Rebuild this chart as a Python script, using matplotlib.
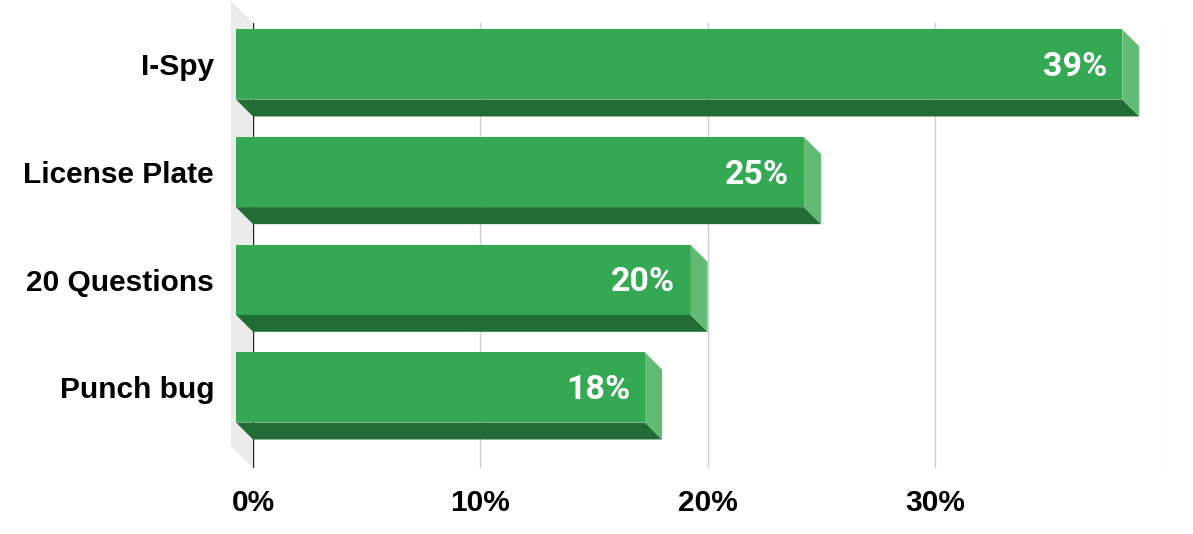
import matplotlib
matplotlib.use("Agg")
import matplotlib.pyplot as plt
from matplotlib.patches import Polygon

# data
games = ["I-Spy", "License Plate", "20 Questions", "Punch bug"]
shares = [39, 25, 20, 18]
x_ticks = [0, 10, 20, 30]
x_tick_labels = ["0%", "10%", "20%", "30%"]
grid_at = [10, 20, 30, 40]

# colours
c_front = "#34a853"
c_bottom = "#226d36"
c_side = "#61bb75"
c_wall = "#ebebeb"
c_grid = "#cccccc"

W, H = 1193, 534
fig = plt.figure(figsize=(W / 100, H / 100), dpi=100)
# axes = back plane of the 3d box
ax = fig.add_axes([253 / W, (H - 468) / H, 909 / W, 445 / H])
ax.set_xlim(0, 40)
ax.set_ylim(3.590, -0.543)

px_x = 909 / 40.0       # pixels per percent
px_y = 107.67           # pixels per category slot
bar_h = 70 / px_y
dx = 17 / px_x          # bar depth
dy = 17 / px_y
wdx = 22 / px_x         # wall depth
wdy = 22 / px_y

y0, y1 = ax.get_ylim()[1], ax.get_ylim()[0]

# side wall
ax.add_patch(Polygon([(0, y0), (0, y1), (-wdx, y1 - wdy), (-wdx, y0 - wdy)],
                     closed=True, fc=c_wall, ec="none", clip_on=False, zorder=0))

for g in grid_at:
    ax.axvline(g, color=c_grid, lw=1, zorder=1)
ax.axvline(0, color="#222222", lw=1, zorder=1)

front_y = []
for i, v in enumerate(shares):
    yb = i
    yf = i - dy
    front_y.append(yf)
    ax.barh(yf, v, left=-dx, height=bar_h, color=c_front, zorder=3, clip_on=False)
    ax.add_patch(Polygon([(-dx, yf + bar_h / 2), (v - dx, yf + bar_h / 2),
                          (v, yb + bar_h / 2), (0, yb + bar_h / 2)],
                         closed=True, fc=c_bottom, ec="none", zorder=3, clip_on=False))
    ax.add_patch(Polygon([(v - dx, yf - bar_h / 2), (v, yb - bar_h / 2),
                          (v, yb + bar_h / 2), (v - dx, yf + bar_h / 2)],
                         closed=True, fc=c_side, ec="none", zorder=3, clip_on=False))
    ax.text(v - dx - 15 / px_x, yf + 2.5 / px_y, f"{v}%", ha="right", va="center",
            color="white", fontsize=24.5, fontweight="bold",
            family=["Roboto", "DejaVu Sans"], zorder=4)

ax.set_yticks(front_y)
ax.set_yticklabels(games, fontsize=21.5, fontweight="bold", family="Liberation Sans")
ax.set_xticks(x_ticks)
ax.set_xticklabels(x_tick_labels, fontsize=21.5, fontweight="bold", family="Liberation Sans")
ax.tick_params(axis="y", length=0, pad=28)
ax.tick_params(axis="x", length=0, pad=15)
for s in ax.spines.values():
    s.set_visible(False)

fig.savefig("out.png", dpi=100)
